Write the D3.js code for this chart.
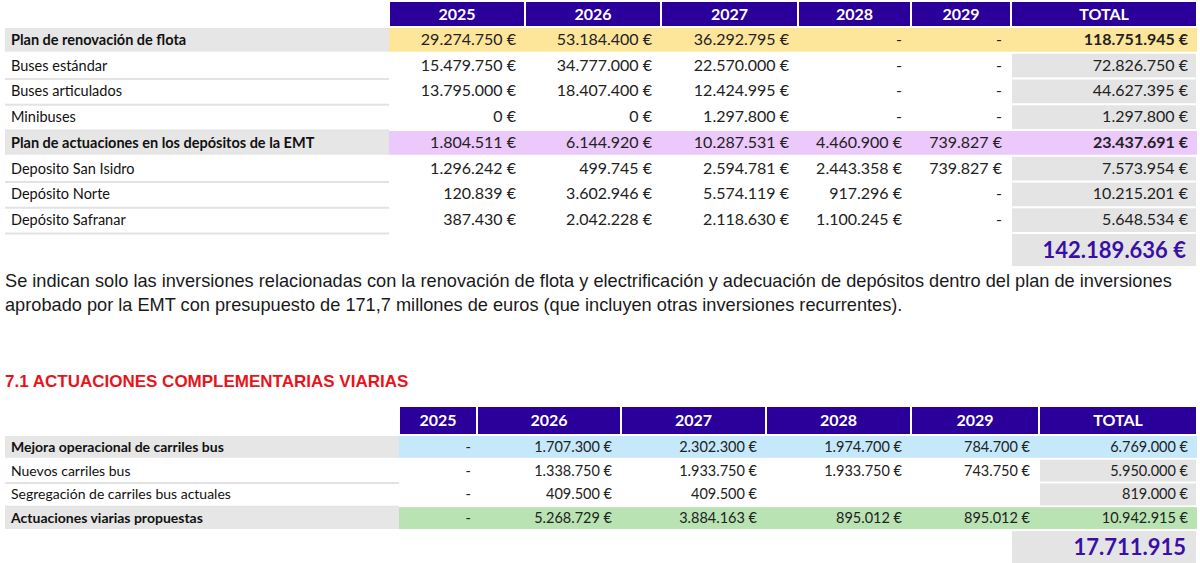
<!DOCTYPE html>
<html><head><meta charset="utf-8">
<script src="https://cdn.jsdelivr.net/npm/d3@7"></script>
<style>body{margin:0;background:#fff}svg{display:block}</style></head>
<body><svg id="c" width="1200" height="563"></svg>
<script>
const years = ["2025","2026","2027","2028","2029","TOTAL"];
const t1Labels = ["Plan de renovación de flota","Buses estándar","Buses articulados","Minibuses",
 "Plan de actuaciones en los depósitos de la EMT","Deposito San Isidro","Depósito Norte","Depósito Safranar"];
const t1Kind = ["head1","sub","sub","sub","head2","sub","sub","sub"];
const t1Values = [
 ["29.274.750 €","53.184.400 €","36.292.795 €","-","-","118.751.945 €"],
 ["15.479.750 €","34.777.000 €","22.570.000 €","-","-","72.826.750 €"],
 ["13.795.000 €","18.407.400 €","12.424.995 €","-","-","44.627.395 €"],
 ["0 €","0 €","1.297.800 €","-","-","1.297.800 €"],
 ["1.804.511 €","6.144.920 €","10.287.531 €","4.460.900 €","739.827 €","23.437.691 €"],
 ["1.296.242 €","499.745 €","2.594.781 €","2.443.358 €","739.827 €","7.573.954 €"],
 ["120.839 €","3.602.946 €","5.574.119 €","917.296 €","-","10.215.201 €"],
 ["387.430 €","2.042.228 €","2.118.630 €","1.100.245 €","-","5.648.534 €"]];
const t1Total = "142.189.636 €";
const t2Labels = ["Mejora operacional de carriles bus","Nuevos carriles bus","Segregación de carriles bus actuales","Actuaciones viarias propuestas"];
const t2Kind = ["head3","sub","sub","head4"];
const t2Values = [
 ["-","1.707.300 €","2.302.300 €","1.974.700 €","784.700 €","6.769.000 €"],
 ["-","1.338.750 €","1.933.750 €","1.933.750 €","743.750 €","5.950.000 €"],
 ["-","409.500 €","409.500 €","","","819.000 €"],
 ["-","5.268.729 €","3.884.163 €","895.012 €","895.012 €","10.942.915 €"]];
const t2Total = "17.711.915";
const paragraph = ["Se indican solo las inversiones relacionadas con la renovación de flota y electrificación y adecuación de depósitos dentro del plan de inversiones",
 "aprobado por la EMT con presupuesto de 171,7 millones de euros (que incluyen otras inversiones recurrentes)."];
const heading = "7.1 ACTUACIONES COMPLEMENTARIAS VIARIAS";

const svg = d3.select("#c");
const F = "Lato, 'Open Sans', sans-serif";
const fills = {head1:"#fde59a",head2:"#ebc9fb",head3:"#c5e8fb",head4:"#b9e3b3"};

function table(o){
  const g = svg.append("g");
  const edges = o.edges;
  const colX0 = i=>edges[i+1]+1, colX1 = i=>edges[i+2]-1;
  const y = d3.scaleBand().domain(d3.range(o.labels.length)).range([o.top,o.bottom]).paddingInner(0.08);
  years.forEach((yr,i)=>{
    g.append("rect").attr("x",colX0(i)).attr("y",o.hTop).attr("width",colX1(i)-colX0(i)).attr("height",o.hH).attr("fill","#2b009a");
    g.append("text").attr("x",(colX0(i)+colX1(i))/2).attr("y",o.hTop+o.hH/2+5.5).attr("text-anchor","middle")
      .attr("fill","#fff").attr("font-weight","bold").attr("font-size",16).attr("font-family",F).text(yr);
  });
  o.labels.forEach((lab,r)=>{
    const k = o.kind[r], bold = k!=="sub";
    const y0 = y(r), h = y.bandwidth(), cy = y0+h/2+5;
    if(bold){
      g.append("rect").attr("x",edges[0]).attr("y",y0).attr("width",edges[1]-edges[0]).attr("height",h).attr("fill","#e6e6e6");
      g.append("rect").attr("x",edges[1]).attr("y",y0).attr("width",edges[7]-edges[1]).attr("height",h).attr("fill",fills[k]);
    } else {
      g.append("line").attr("x1",edges[0]).attr("x2",edges[1]).attr("y1",y0+h+1.5).attr("y2",y0+h+1.5).attr("stroke","#e3e3e3").attr("stroke-width",2);
      g.append("rect").attr("x",colX0(5)).attr("y",y0).attr("width",colX1(5)-colX0(5)).attr("height",h).attr("fill","#e4e4e4");
    }
    g.append("text").attr("x",edges[0]+6).attr("y",cy).attr("font-size",o.ls).attr("font-family",F)
      .attr("font-weight",bold?"bold":"normal").attr("fill","#111").text(lab);
    o.values[r].forEach((v,i)=>{
      const isTot = i===5;
      const x = v==="-" ? colX1(i)-o.dashPad : colX1(i)-8;
      g.append("text").attr("x",x).attr("y",cy).attr("text-anchor","end").attr("font-size",o.fs).attr("font-family",F)
        .attr("font-weight",(isTot&&o.boldTot&&bold)?"bold":"normal").attr("fill","#222").text(v);
    });
  });
  g.append("rect").attr("x",o.totBox[0]).attr("y",o.totBox[1]).attr("width",o.totBox[2]).attr("height",o.totBox[3]).attr("fill","#e4e4e4");
  g.append("text").attr("x",o.totBox[0]+o.totBox[2]-10).attr("y",o.totBox[1]+o.totBox[3]/2+8).attr("text-anchor","end")
    .attr("font-size",22).attr("font-weight","bold").attr("font-family",F).attr("fill","#3a0fa8").text(o.total);
}

table({labels:t1Labels,kind:t1Kind,values:t1Values,total:t1Total,edges:[5,389,525,661,798,911,1011,1197],
  hTop:2,hH:24,top:28,bottom:232,fs:16,ls:14.5,dashPad:8,boldTot:true,totBox:[1012,234,184,32]});

svg.selectAll("text.p").data(paragraph).enter().append("text").attr("class","p")
  .attr("x",5).attr("y",(d,i)=>287+i*24).attr("font-size",18.2).attr("font-family","'Liberation Sans', Arial, sans-serif").attr("fill","#1a1a1a").text(d=>d);
svg.append("text").attr("x",5).attr("y",387).attr("font-size",17).attr("font-weight","bold")
  .attr("font-family","'Liberation Sans', Arial, sans-serif").attr("fill","#e8141c").text(heading);

table({labels:t2Labels,kind:t2Kind,values:t2Values,total:t2Total,edges:[5,399,477,621,766,911,1039,1197],
  hTop:407,hH:27,top:436,bottom:529,fs:14.5,ls:14,dashPad:5,boldTot:false,totBox:[1012,531,184,32]});
</script></body></html>
